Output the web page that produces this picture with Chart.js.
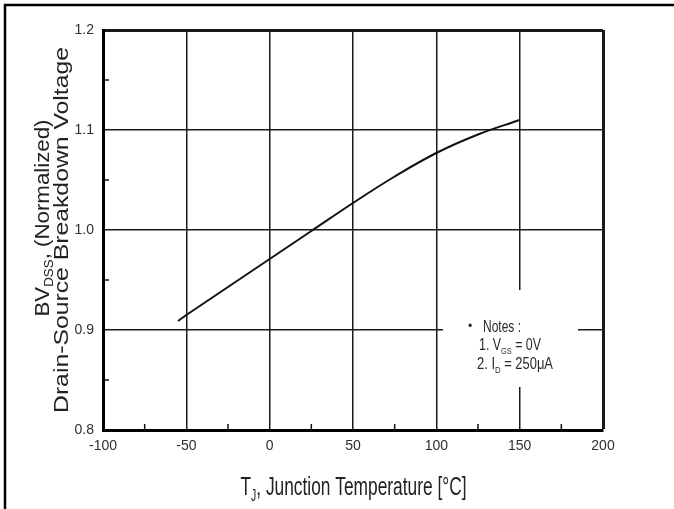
<!DOCTYPE html>
<html><head><meta charset="utf-8">
<script src="https://cdn.jsdelivr.net/npm/chart.js@4.4.0/dist/chart.umd.min.js"></script>
<style>html,body{margin:0;padding:0;background:#fff;}#wrap{width:674px;height:509px;position:relative;}</style>
</head><body><div id="wrap"><canvas id="c" width="674" height="509"></canvas></div>
<script>
// ---- data ----
const temperatures = [-55, -50, -25, 0, 25, 50, 75, 100, 125, 150];
const bvNormalized = [0.909, 0.915, 0.943, 0.971, 0.999, 1.027, 1.0535, 1.077, 1.0955, 1.110];
const xTickValues = [-100, -50, 0, 50, 100, 150, 200];
const yTickValues = [0.8, 0.9, 1.0, 1.1, 1.2];
const xMinorTicks = [-75, -25, 25, 75, 125, 175];
const yMinorTicks = [0.85, 0.95, 1.05, 1.15];
const xTitleParts = [{t:'T'},{t:'J',sub:true},{t:', Junction Temperature [°C]'}];
const yTitleLine1 = [{t:'BV'},{t:'DSS',sub:true},{t:', (Normalized)'}];
const yTitleLine2 = [{t:'Drain-Source Breakdown Voltage'}];
const notesHeader = [{t:'Notes :'}];
const note1 = [{t:'1. V'},{t:'GS',sub:true},{t:' = 0V'}];
const note2 = [{t:'2. I'},{t:'D',sub:true},{t:' = 250μA'}];

const FAM = '"Liberation Sans", Arial, sans-serif';
const NARROW = '"Liberation Sans Narrow", "Liberation Sans", Arial, sans-serif';

function richWidth(ctx, parts, size, fam){
  let w = 0;
  for (const p of parts){ const s = (p.sub||p.sup) ? size*0.6 : size; ctx.font = s+'px '+fam; w += ctx.measureText(p.t).width; }
  return w;
}
// draws rich text stretched/compressed along its direction to a given length
function drawRichFit(ctx, parts, x, y, size, fam, targetW, align, rot){
  ctx.save();
  const w = richWidth(ctx, parts, size, fam);
  const sx = targetW / w;
  ctx.translate(x, y);
  if (rot) ctx.rotate(rot);
  ctx.scale(sx, 1);
  let cx = align === 'center' ? -w/2 : 0;
  ctx.textBaseline = 'alphabetic'; ctx.textAlign = 'left';
  for (const p of parts){
    const s = (p.sub||p.sup) ? size*0.6 : size;
    ctx.font = s+'px '+fam;
    const dy = p.sub ? size*0.22 : (p.sup ? -size*0.4 : 0);
    ctx.fillText(p.t, cx, dy);
    cx += ctx.measureText(p.t).width;
  }
  ctx.restore();
}

const decor = {
  id: 'decor',
  beforeDatasetsDraw(chart){
    const ctx = chart.ctx, xs = chart.scales.x, ys = chart.scales.y, a = chart.chartArea;
    ctx.save();
    ctx.strokeStyle = '#111'; ctx.lineWidth = 1.5;
    for (const v of xMinorTicks){ const px = xs.getPixelForValue(v); ctx.beginPath(); ctx.moveTo(px, a.bottom); ctx.lineTo(px, a.bottom-6); ctx.stroke(); }
    for (const v of yMinorTicks){ const py = ys.getPixelForValue(v); ctx.beginPath(); ctx.moveTo(a.left, py); ctx.lineTo(a.left+6, py); ctx.stroke(); }
    ctx.fillStyle = '#fff';
    ctx.fillRect(443, 290, 135, 97);
    ctx.fillStyle = '#2a2a2a';
    ctx.font = '12px '+FAM; ctx.textAlign='center'; ctx.textBaseline='middle';
    ctx.fillText('•', 470, 327);
    drawRichFit(ctx, notesHeader, 483, 332, 16, FAM, 38, 'left');
    drawRichFit(ctx, note1, 479, 350, 16, FAM, 62, 'left');
    drawRichFit(ctx, note2, 477, 369, 16, FAM, 76, 'left');
    ctx.restore();
  },
  afterDraw(chart){
    const ctx = chart.ctx;
    ctx.save();
    ctx.strokeStyle = '#000'; ctx.lineWidth = 2.5;
    ctx.beginPath(); ctx.moveTo(5, 509); ctx.lineTo(5, 5); ctx.lineTo(674, 5); ctx.stroke();
    ctx.fillStyle = '#222';
    drawRichFit(ctx, xTitleParts, 353.5, 495, 26, FAM, 226, 'center');
    drawRichFit(ctx, yTitleLine1, 49, 218, 20, FAM, 197, 'center', -Math.PI/2);
    drawRichFit(ctx, yTitleLine2, 68, 230, 20, FAM, 366, 'center', -Math.PI/2);
    ctx.restore();
  }
};

new Chart(document.getElementById('c'), {
  type: 'line',
  data: {
    datasets: [{
      data: temperatures.map((t, i) => ({x: t, y: bvNormalized[i]})),
      borderColor: '#111', borderWidth: 2, pointRadius: 0,
      tension: 0.4, fill: false
    }]
  },
  options: {
    responsive: false, animation: false,
    layout: { padding: { top: 30, right: 71, left: 0, bottom: 0 } },
    plugins: { legend: { display: false }, tooltip: { enabled: false } },
    scales: {
      x: {
        type: 'linear', min: -100, max: 200,
        afterBuildTicks: s => { s.ticks = xTickValues.map(v => ({value: v})); },
        afterFit: s => { s.height = 79; },
        ticks: { color: '#2e2e2e', font: { family: NARROW, size: 14 }, padding: 8, maxRotation: 0,
                 callback: v => String(v) },
        grid: { color: '#1a1a1a', drawTicks: false,
                lineWidth: c => (c.tick && c.tick.value === 200) ? 3 : 1.5 },
        border: { display: true, width: 3, color: '#000' }
      },
      y: {
        type: 'linear', min: 0.8, max: 1.2,
        afterBuildTicks: s => { s.ticks = yTickValues.map(v => ({value: v})); },
        afterFit: s => { s.width = 103; },
        ticks: { color: '#2e2e2e', font: { family: NARROW, size: 14 }, padding: 9,
                 callback: v => Number(v).toFixed(1) },
        grid: { color: '#1a1a1a', drawTicks: false,
                lineWidth: c => (c.tick && Math.abs(c.tick.value - 1.2) < 1e-9) ? 3 : 1.5 },
        border: { display: true, width: 3, color: '#000' }
      }
    }
  },
  plugins: [decor]
});
</script>
</body></html>
